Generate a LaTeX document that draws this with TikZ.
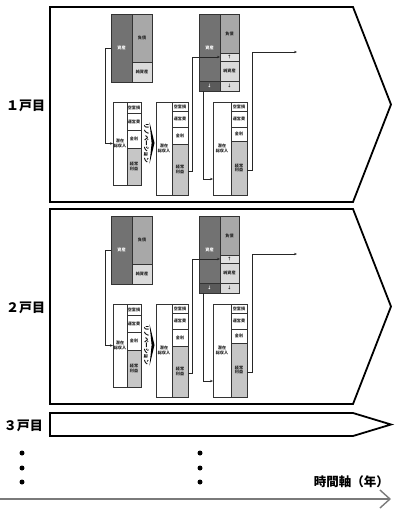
\documentclass[tikz,border=0pt]{standalone}
\usepackage{fontspec}
\newfontfamily\jp{Noto Sans CJK JP}
\usetikzlibrary{arrows.meta}
\definecolor{cA}{HTML}{727272}
\definecolor{cAD}{HTML}{5A5A5A}
\definecolor{cL}{HTML}{A8A8A8}
\definecolor{cN}{HTML}{DADADA}
\definecolor{cE}{HTML}{C6C6C6}
\definecolor{cU}{HTML}{E2E2E2}
\definecolor{cAx}{HTML}{7A7A7A}
% name, x1, y1, x2, y2, style, text
\newcommand\cellbox[7]{%
  \node[cellst,#6,minimum width={(#4)-(#2)},minimum height={(#5)-(#3)}] (#1)
    at ({((#2)+(#4))/2},{((#3)+(#5))/2}) {#7};}
\begin{document}
\begin{tikzpicture}[x=1pt,y=-1pt,
  cellst/.style={draw=black!80,line width=0.45pt,inner sep=0pt,outer sep=0pt,
    align=center,font=\jp\bfseries\fontsize{4.1}{4.7}\selectfont,text=black!85},
  panel/.style={draw=black,line width=1.8pt,line join=miter},
  conn/.style={draw=black!85,line width=0.55pt,-{Stealth[length=3pt,width=2.4pt]}},
  lab/.style={font=\jp\bfseries\fontsize{13}{13}\selectfont,inner sep=0pt},
  reno/.style={font=\jp\bfseries\fontsize{5.6}{5.6}\selectfont,inner sep=0pt,rotate=-90},
  axis/.style={draw=cAx,line width=1.4pt,-{Straight Barb[length=10pt,width=18pt,line width=1.4pt]}}]
\useasboundingbox (0,0) rectangle (400,512);

\foreach \s/\dy/\lbl in {1/0/１戸目,2/202/２戸目}{
  % panel outline
  \draw[panel] (50,7+\dy) -- (353,7+\dy) -- (391,104.5+\dy) -- (353,202+\dy) -- (50,202+\dy) -- cycle;
  \node[lab] (h\s) at (25.5,105.5+\dy) {\lbl};
  % balance sheet 1
  \cellbox{a\s}{111}{14+\dy}{132}{82+\dy}{fill=cA,text=white}{資産}
  \cellbox{l\s}{132}{14+\dy}{152}{62+\dy}{fill=cL}{負債}
  \cellbox{n\s}{132}{62+\dy}{152}{82+\dy}{fill=cN}{純資産}
  % P/L 1
  \cellbox{p\s}{113}{102+\dy}{127}{185+\dy}{fill=white}{潜在\\総収入}
  \cellbox{pv\s}{127}{102+\dy}{141}{113+\dy}{fill=white}{空室損}
  \cellbox{po\s}{127}{113+\dy}{141}{130+\dy}{fill=white}{運営費}
  \cellbox{pi\s}{127}{130+\dy}{141}{148+\dy}{fill=white}{金利}
  \cellbox{pe\s}{127}{148+\dy}{141}{185+\dy}{fill=cE}{経常\\利益}
  % renovation
  \node[reno] (rn\s) at (146.5,143.5+\dy) {リノベーション};
  \fill (149.5,122+\dy) -- (154.5,143+\dy) -- (149.5,164+\dy) -- (151.6,143+\dy) -- cycle;
  % P/L 2
  \cellbox{q\s}{156}{102+\dy}{172}{195+\dy}{fill=white}{潜在\\総収入}
  \cellbox{qv\s}{172}{102+\dy}{188}{111+\dy}{fill=white}{空室損}
  \cellbox{qo\s}{172}{111+\dy}{188}{127+\dy}{fill=white}{運営費}
  \cellbox{qi\s}{172}{127+\dy}{188}{144+\dy}{fill=white}{金利}
  \cellbox{qe\s}{172}{144+\dy}{188}{195+\dy}{fill=cE}{経常\\利益}
  % balance sheet 2
  \cellbox{b\s}{199}{14+\dy}{220}{81+\dy}{fill=cA,text=white}{資産}
  \cellbox{bd\s}{199}{81+\dy}{220}{91+\dy}{fill=cAD,text=white}{↓}
  \cellbox{bl\s}{220}{14+\dy}{239}{53+\dy}{fill=cL}{負債}
  \cellbox{bu\s}{220}{53+\dy}{239}{61+\dy}{fill=cU}{↑}
  \cellbox{bn\s}{220}{61+\dy}{239}{81+\dy}{fill=cN}{純資産}
  \cellbox{bx\s}{220}{81+\dy}{239}{91+\dy}{fill=cN}{↓}
  % P/L 3
  \cellbox{r\s}{213}{102+\dy}{231}{195+\dy}{fill=white}{潜在\\総収入}
  \cellbox{rv\s}{231}{102+\dy}{247}{111+\dy}{fill=white}{空室損}
  \cellbox{ro\s}{231}{111+\dy}{247}{127+\dy}{fill=white}{運営費}
  \cellbox{ri\s}{231}{127+\dy}{247}{141+\dy}{fill=white}{金利}
  \cellbox{re\s}{231}{141+\dy}{247}{195+\dy}{fill=cE}{経常\\利益}
  % connectors
  \draw[conn] (a\s.west) -- ++(-6,0) |- (p\s.west);
  \draw[conn] ([yshift=-2pt]qe\s.east) -- ++(4,0) |- (bu\s.west);
  \draw[conn] ([xshift=4pt]bd\s.south west) |- ([yshift=16pt]r\s.south west);
  \coordinate (end\s) at (297,52+\dy);
  \draw[conn] ([yshift=-2pt]re\s.east) -- ++(5,0) |- (end\s);
}

% third unit
\draw[panel] (50,413) -- (353,413) -- (391,424.5) -- (353,436) -- (50,436) -- cycle;
\node[lab] (h3) at (23.5,425.5) {３戸目};

% ellipsis dots
\foreach \yy in {453,468,482}{
  \fill (22,\yy) circle (2.5);
  \fill (200,\yy) circle (2.5);
}

% time axis
\node[lab,anchor=east,font=\jp\bfseries\fontsize{12.5}{12.5}\selectfont] (tl) at (389,482) {時間軸（年）};
\coordinate (ax0) at (0,499);
\coordinate (ax1) at (391,499);
\draw[axis] (ax0) -- (ax1);
\end{tikzpicture}
\end{document}
